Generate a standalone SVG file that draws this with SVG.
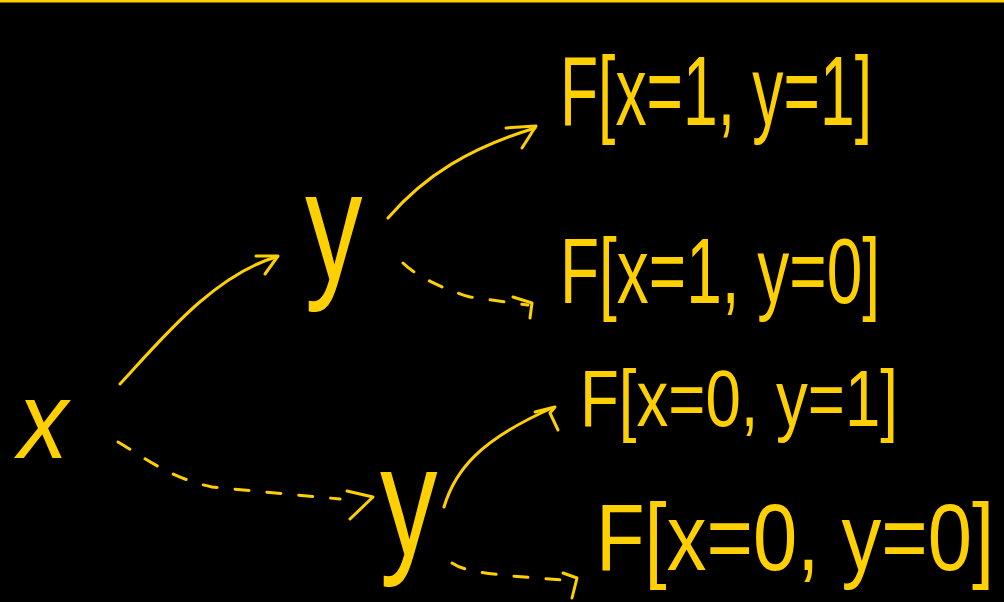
<svg xmlns="http://www.w3.org/2000/svg" width="1004" height="602" viewBox="0 0 1004 602">
<style>
.bg{fill:#000}
.t{fill:#FFD000;font-family:"Liberation Sans","DejaVu Sans",sans-serif}
.c{fill:none;stroke:#FFD000;stroke-width:3;stroke-linecap:round;stroke-linejoin:round}
.d{stroke-dasharray:14 18}
</style>
<rect class="bg" x="0" y="0" width="1004" height="602"/>
<line x1="0" y1="1" x2="1004" y2="1" stroke="#FFD000" stroke-width="3"/>
<g id="node-x"><text class="t" transform="translate(18,458) scale(1,1.1)" font-size="100" font-style="italic">x</text></g>
<g id="node-y-upper"><text class="t" transform="translate(305,280) scale(1,1.35)" font-size="115">y</text></g>
<g id="node-y-lower"><text class="t" transform="translate(380,555) scale(1,1.35)" font-size="115">y</text></g>
<g id="node-F11"><text class="t" transform="translate(560,125) scale(1,1.5)" font-size="66" textLength="312" lengthAdjust="spacingAndGlyphs">F[x=1, y=1]</text></g>
<g id="node-F10"><text class="t" transform="translate(560,303) scale(1,1.35)" font-size="68" textLength="320" lengthAdjust="spacingAndGlyphs">F[x=1, y=0]</text></g>
<g id="node-F01"><text class="t" transform="translate(580,426) scale(1,1.25)" font-size="64" textLength="318" lengthAdjust="spacingAndGlyphs">F[x=0, y=1]</text></g>
<g id="node-F00"><text class="t" transform="translate(596,570) scale(1,1.2)" font-size="78" textLength="398" lengthAdjust="spacingAndGlyphs">F[x=0, y=0]</text></g>
<g id="connectors">
<path class="c" d="M120,384 C165,335 215,275 276,257"/>
<path class="c" d="M256,256 L278,256 L265,274"/>
<path class="c d" d="M118,442 C145,458 170,478 212,487 L340,499"/>
<path class="c" d="M347,491 L373,497 L350,519"/>
<path class="c" d="M388,218 C425,175 470,148 535,128"/>
<path class="c" d="M506,128 L536,126 L522,148"/>
<path class="c d" d="M403,263 C415,275 440,288 470,297 L528,305"/>
<path class="c" d="M513,297 L532,303 L530,318"/>
<path class="c" d="M444,507 C455,470 480,440 552,408"/>
<path class="c" d="M535,412 L555,407 L550,413 L558,430"/>
<path class="c d" d="M452,563 C465,572 490,575 577,581"/>
<path class="c" d="M563,573 L577,578 L572,598"/>
</g>
</svg>
